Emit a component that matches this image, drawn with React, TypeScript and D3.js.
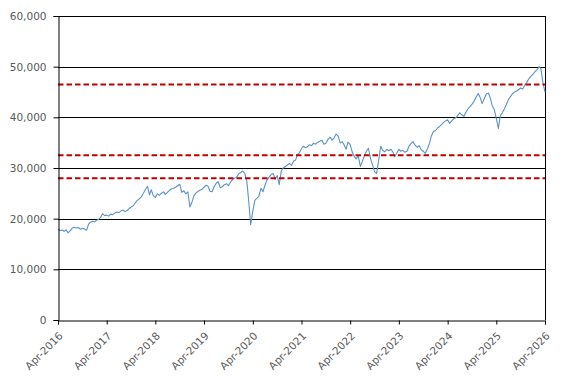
import React, { useRef, useEffect } from 'react';
import * as d3 from 'd3';

// axis labels
const xTickLabels = [
  'Apr-2016', 'Apr-2017', 'Apr-2018', 'Apr-2019', 'Apr-2020', 'Apr-2021',
  'Apr-2022', 'Apr-2023', 'Apr-2024', 'Apr-2025', 'Apr-2026',
];
const yTicks = [0, 10000, 20000, 30000, 40000, 50000, 60000];

// horizontal reference levels (red dashed)
const levels = [46500, 32500, 28000];

// index readings, two per month (1st and 16th), April through March
const fy2016 = [17900, 17650, 17750, 17500, 17800, 17200, 17600, 18100, 18300, 18150, 18250, 17900,
  18100, 17950, 17700, 18900, 19300, 19500, 19400, 19700, 19900, 20300, 21000, 20600];
const fy2017 = [20700, 20500, 20900, 20800, 21100, 21300, 21200, 21500, 21700, 21400, 21600, 22000,
  22300, 22500, 23100, 23600, 23900, 24300, 25000, 25700, 26400, 24700, 25700, 24600];
const fy2018 = [24200, 24900, 24600, 25000, 25300, 24800, 25200, 25600, 25900, 26000, 26200, 26500,
  26800, 25200, 25500, 24900, 25300, 22300, 23300, 24600, 25100, 25400, 25600, 25800];
const fy2019 = [26200, 26600, 26400, 25400, 25300, 26300, 27000, 27300, 26100, 26300, 26700, 26900,
  26500, 27200, 27700, 28000, 28200, 28800, 29100, 29400, 28900, 27400, 23500, 18800];
const fy2020 = [21500, 23600, 24000, 24400, 26000, 25300, 26600, 27600, 28200, 28700, 28900, 27800,
  28500, 26700, 29500, 30000, 30300, 30600, 30900, 30500, 31400, 31600, 32600, 33000];
const fy2021 = [33800, 34300, 34000, 34200, 34600, 34400, 34900, 34700, 35100, 35300, 35500, 34700,
  34900, 35600, 36100, 35500, 35900, 36700, 36300, 34900, 35200, 34500, 33700, 35100];
const fy2022 = [34600, 33200, 32300, 31800, 32400, 30300, 31300, 32400, 33300, 33900, 31800, 30600,
  29300, 28900, 31600, 34300, 33500, 33200, 33700, 33400, 33700, 33100, 32200, 32900];
const fy2023 = [33700, 33300, 33500, 33100, 33300, 34300, 34800, 35200, 34500, 34100, 34400, 33600,
  33300, 32900, 33800, 34800, 36300, 37200, 37400, 37900, 38200, 38600, 39000, 39300];
const fy2024 = [39500, 38800, 39300, 39700, 39900, 40400, 40900, 40500, 40200, 41000, 41700, 42100,
  42600, 43200, 44000, 44700, 43900, 42700, 43700, 44600, 44800, 43700, 42300, 41600];
const fy2025 = [39800, 37800, 40300, 40900, 41700, 42600, 43500, 44100, 44700, 45000, 45200, 45500,
  45800, 45600, 46400, 46900, 47600, 48100, 48500, 49000, 49400, 50000, 49600, 46900];
const fy2026 = [45000];

const values = [fy2016, fy2017, fy2018, fy2019, fy2020, fy2021, fy2022, fy2023, fy2024, fy2025, fy2026].flat();

const FONT = '"DejaVu Sans", sans-serif';
const LABEL = '#595959';

export default function App() {
  const svgRef = useRef<SVGSVGElement>(null);

  useEffect(() => {
    if (!svgRef.current) return;
    const svg = d3.select(svgRef.current);
    svg.selectAll('*').remove();

    const width = 572;
    const height = 385;
    const margin = { top: 16, right: 27, bottom: 65, left: 58 };
    const innerWidth = width - margin.left - margin.right;
    const innerHeight = height - margin.top - margin.bottom;

    const parse = d3.timeParse('%b-%Y');
    const tickDates = xTickLabels.map(s => parse(s) as Date);
    const start = tickDates[0];

    const data = values.map((v, i) => ({
      date: d3.timeDay.offset(d3.timeMonth.offset(start, Math.floor(i / 2)), i % 2 ? 15 : 0),
      value: v,
    }));

    const x = d3.scaleTime()
      .domain([tickDates[0], tickDates[tickDates.length - 1]])
      .range([0, innerWidth]);

    const y = d3.scaleLinear()
      .domain([0, 60000])
      .range([innerHeight, 0]);

    const g = svg.append('g')
      .attr('transform', `translate(${margin.left}, ${margin.top})`);

    // gridlines
    g.append('g')
      .selectAll('line')
      .data(yTicks.filter(d => d > 0))
      .join('line')
      .attr('x1', 0)
      .attr('x2', innerWidth)
      .attr('y1', d => Math.round(y(d)) + 0.5)
      .attr('y2', d => Math.round(y(d)) + 0.5)
      .attr('stroke', '#000')
      .attr('stroke-width', 1);

    // right border
    g.append('line')
      .attr('x1', innerWidth + 0.5)
      .attr('x2', innerWidth + 0.5)
      .attr('y1', 0)
      .attr('y2', innerHeight)
      .attr('stroke', '#000');

    // series
    const line = d3.line<{ date: Date; value: number }>()
      .x(d => x(d.date))
      .y(d => y(d.value));

    g.append('path')
      .datum(data)
      .attr('fill', 'none')
      .attr('stroke', '#5b93c6')
      .attr('stroke-width', 1.1)
      .attr('stroke-linejoin', 'round')
      .attr('d', line);

    // reference levels
    g.append('g')
      .selectAll('line')
      .data(levels)
      .join('line')
      .attr('x1', 0)
      .attr('x2', innerWidth)
      .attr('y1', d => y(d))
      .attr('y2', d => y(d))
      .attr('stroke', '#c00000')
      .attr('stroke-width', 2)
      .attr('stroke-dasharray', '5.5,3');

    // y axis
    const yAxis = g.append('g')
      .attr('transform', 'translate(0.5, 0)')
      .call(d3.axisLeft(y).tickValues(yTicks).tickSize(5).tickPadding(7).tickFormat(d3.format(',')));
    yAxis.select('.domain').attr('stroke', '#000');
    yAxis.selectAll('.tick line').attr('stroke', '#000');
    yAxis.selectAll('.tick text')
      .attr('fill', LABEL)
      .attr('font-family', FONT)
      .attr('font-size', '10.5px');

    // x axis
    const xAxis = g.append('g')
      .attr('transform', `translate(0, ${innerHeight + 0.5})`)
      .call(d3.axisBottom(x).tickValues(tickDates).tickSize(4).tickFormat((_, i) => xTickLabels[i]));
    xAxis.select('.domain').attr('stroke', '#000');
    xAxis.selectAll('.tick line').attr('stroke', '#000');
    xAxis.selectAll('.tick text')
      .attr('fill', LABEL)
      .attr('font-family', FONT)
      .attr('font-size', '10.5px')
      .attr('text-anchor', 'end')
      .attr('dy', 0)
      .attr('y', 0)
      .attr('transform', 'translate(5, 16) rotate(-45)');
  }, []);

  return (
    <svg
      ref={svgRef}
      width={572}
      height={385}
      style={{ position: 'absolute', left: 0, top: 0, background: '#fff' }}
    />
  );
}
